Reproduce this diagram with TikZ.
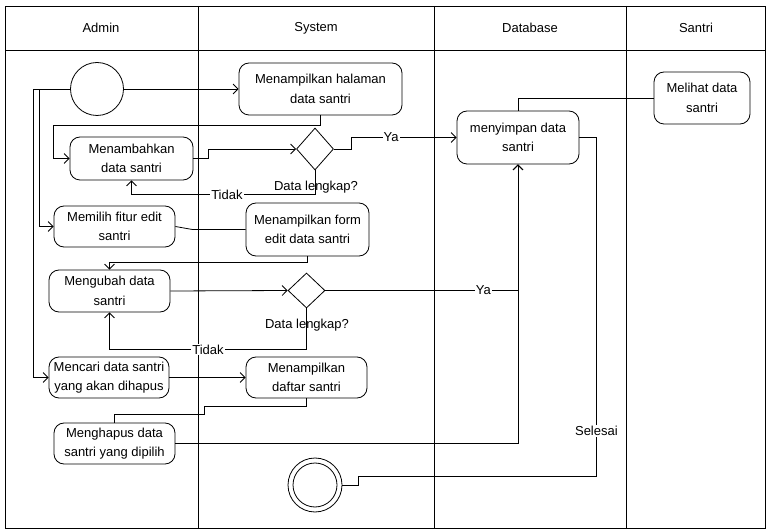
\documentclass[tikz,border=0pt]{standalone}
\usepackage{fontspec}
\setmainfont{Liberation Sans}
\usetikzlibrary{arrows.meta,shapes.geometric,calc}
\begin{document}
\begin{tikzpicture}[x=1pt,y=-1pt,
  every node/.style={font=\fontsize{13}{19.5}\selectfont},
  act/.style={draw, rounded corners=10pt, align=center, inner sep=0pt, line width=0.8pt},
  dec/.style={draw, diamond, inner sep=0pt, line width=0.8pt},
  ln/.style={line width=0.8pt},
  arr/.style={line width=0.8pt, -{Straight Barb[length=5pt,width=10pt]}},
  lbl/.style={fill=white, inner sep=1pt},
  lane/.style={line width=0.8pt}]
\useasboundingbox (0,0) rectangle (766,529);
% swimlanes
\draw[lane] (5,6) rectangle (765,528);
\draw[lane] (5,50) -- (765,50);
\draw[lane] (198,6) -- (198,528);
\draw[lane] (434,6) -- (434,528);
\draw[lane] (626,6) -- (626,528);
\node (hAdmin) at (101,28) {Admin};
\node (hSystem) at (316,28) {System};
\node (hDb) at (530,28) {Database};
\node (hSantri) at (696,28) {Santri};
% nodes
\node[draw, circle, minimum size=53pt, inner sep=0pt, line width=0.8pt] (start) at (97,89) {};
\node[act, minimum width=163pt, minimum height=52pt] (mh) at (320.5,89) {Menampilkan halaman\\data santri};
\node[act, minimum width=123pt, minimum height=43pt] (tambah) at (131.5,158.5) {Menambahkan\\data santri};
\node[dec, minimum width=37pt, minimum height=42pt] (d1) at (315,149) {};
\node (l1) at (316,187) {Data lengkap?};
\node[act, minimum width=122pt, minimum height=53pt] (simpan) at (518,137.5) {menyimpan data\\santri};
\node[act, minimum width=96pt, minimum height=52pt] (melihat) at (702,98) {Melihat data\\santri};
\node[act, minimum width=121pt, minimum height=41pt] (memilih) at (114.5,226.5) {Memilih fitur edit\\santri};
\node[act, minimum width=123pt, minimum height=53pt] (form) at (307.5,229.5) {Menampilkan form\\edit data santri};
\node[act, minimum width=121pt, minimum height=42pt] (ubah) at (109.5,291) {Mengubah data\\santri};
\node[dec, minimum width=37pt, minimum height=35pt] (d2) at (306.5,290.5) {};
\node (l2) at (307,325) {Data lengkap?};
\node[act, minimum width=120pt, minimum height=41pt] (cari) at (109,377.5) {Mencari data santri\\yang akan dihapus};
\node[act, minimum width=121pt, minimum height=41pt] (daftar) at (306.5,377.5) {Menampilkan\\daftar santri};
\node[act, minimum width=121pt, minimum height=41pt] (hapus) at (114.5,443.5) {Menghapus data\\santri yang dipilih};
\node[draw, circle, minimum size=54pt, inner sep=0pt, line width=0.8pt] (end) at (315,485) {};
\node[draw, circle, minimum size=44pt, inner sep=0pt, line width=0.8pt] (endin) at (315,485) {};
% connectors
\draw[arr] (start) -- (mh);
\draw[arr] (start.west) -- ++(-31,0) |- (memilih.west);
\draw[arr] (start.west) -- ++(-37,0) |- (cari.west);
\draw[arr] (mh.south) -- ++(0,10) -| ([xshift=-16pt]tambah.west) -- (tambah.west);
\draw[arr] (tambah.east) -- ++(15,0) |- (d1.west);
\draw[arr] (d1.east) -- ++(17,0) |- node[lbl, pos=0.69] {Ya} (simpan.west);
\draw[arr] (d1.south) -- ++(0,24) -| node[lbl, pos=0.24] {Tidak} (tambah.south);
\draw[ln] (memilih.east) -- ++(17,3) -- (form.west);
\draw[arr] (form.south) -- ++(0,6) -| (ubah.north);
\draw[arr] (ubah.east) -- (d2.west);
\draw[arr] (d2.east) -| node[lbl, pos=0.41] {Ya} (simpan.south);
\draw[arr] (d2.south) -- ++(0,41) -| node[lbl, pos=0.25] {Tidak} (ubah.south);
\draw[arr] (cari.east) -- (daftar.west);
\draw[ln] (daftar.south) -- ++(0,8) -- ++(-102.5,0) -- ++(0,8) -| (hapus.north);
\draw[arr] (hapus.east) -| (simpan.south);
\draw[ln] (simpan.east) -- ++(17,0) -- node[lbl, pos=0.867] {Selesai} ++(0,338.5) -| ([xshift=16pt]end.east) -- (end.east);
\draw[ln] (simpan.north) |- (melihat.west);
\end{tikzpicture}
\end{document}
